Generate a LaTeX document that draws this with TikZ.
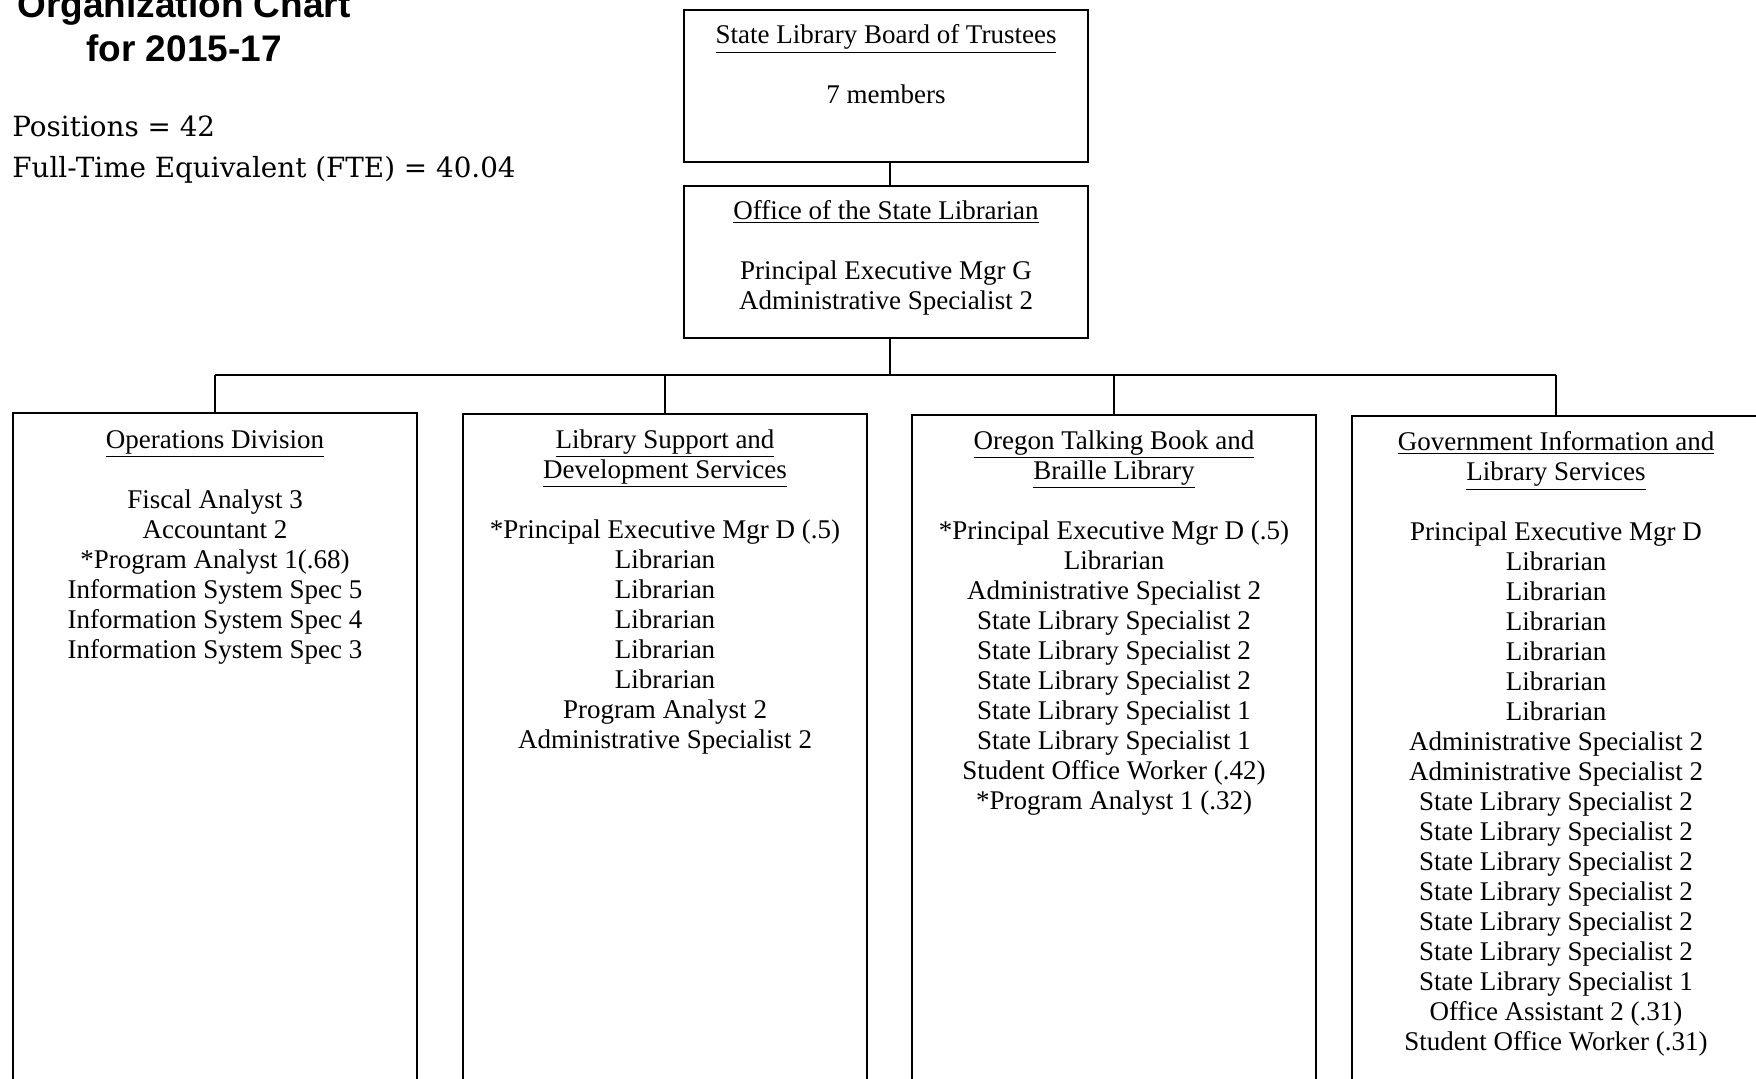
\documentclass[tikz,border=0pt]{standalone}
\usepackage{fontspec}
\setmainfont{Liberation Serif}
\newfontfamily\headfont{Liberation Sans}
\newfontfamily\countfont{DejaVu Serif}
\usetikzlibrary{positioning}

\newcommand{\unitname}[1]{\underline{#1}}

\begin{document}
\begin{tikzpicture}[x=0.5pt,y=-0.5pt]
	\tikzstyle{orgbox}=[draw,line width=1pt,rectangle,anchor=north,inner sep=0pt,minimum width=202pt]
	\tikzstyle{boxtext}=[align=center,anchor=north,inner sep=0pt,font=\fontsize{13.5}{15}\selectfont]
	\tikzstyle{wire}=[line width=0.8pt]

	\useasboundingbox (0,0) rectangle (1756,1079);
	\clip (0,0) rectangle (1756,1079);

	%
	% heading and totals
	%
	\node [anchor=base,align=center,inner sep=0pt,font=\headfont\bfseries\fontsize{18.5}{22}\selectfont] (title) at (184,62) {Organization Chart\\for 2015-17};
	\node [anchor=base west,align=left,inner sep=0pt,font=\countfont\fontsize{13.9}{20.5}\selectfont] (totals) at (12,178) {Positions = 42\\Full-Time Equivalent (FTE) = 40.04};

	%
	% board and state librarian
	%
	\node [orgbox,minimum height=76pt] (board) at (886,9) {};
	\node [orgbox,minimum height=76pt] (office) at (886,185) {};

	\node [boxtext,below=7.5pt of board.north] (board-text) {\unitname{State Library Board of Trustees}\\[\baselineskip]
		7 members};
	\node [boxtext,below=7.5pt of office.north] (office-text) {\unitname{Office of the State Librarian}\\[\baselineskip]
		Principal Executive Mgr G\\
		Administrative Specialist 2};

	%
	% divisions
	%
	\node [orgbox,minimum height=345pt] (ops) at (215,412) {};
	\node [orgbox,minimum height=345pt] (lsd) at (665,413) {};
	\node [orgbox,minimum height=345pt] (otb) at (1114,414) {};
	\node [orgbox,minimum height=345pt,minimum width=204pt] (gov) at (1556,415) {};

	\node [boxtext,below=9pt of ops.north] (ops-text) {\unitname{Operations Division}\\[\baselineskip]
		Fiscal Analyst 3\\
		Accountant 2\\
		*Program Analyst 1(.68)\\
		Information System Spec 5\\
		Information System Spec 4\\
		Information System Spec 3};

	\node [boxtext,below=8pt of lsd.north] (lsd-text) {\unitname{Library Support and}\\
		\unitname{Development Services}\\[\baselineskip]
		*Principal Executive Mgr D (.5)\\
		Librarian\\
		Librarian\\
		Librarian\\
		Librarian\\
		Librarian\\
		Program Analyst 2\\
		Administrative Specialist 2};

	\node [boxtext,below=8pt of otb.north] (otb-text) {\unitname{Oregon Talking Book and}\\
		\unitname{Braille Library}\\[\baselineskip]
		*Principal Executive Mgr D (.5)\\
		Librarian\\
		Administrative Specialist 2\\
		State Library Specialist 2\\
		State Library Specialist 2\\
		State Library Specialist 2\\
		State Library Specialist 1\\
		State Library Specialist 1\\
		Student Office Worker (.42)\\
		*Program Analyst 1 (.32)};

	\node [boxtext,below=8pt of gov.north] (gov-text) {\unitname{Government Information and}\\
		\unitname{Library Services}\\[\baselineskip]
		Principal Executive Mgr D\\
		Librarian\\
		Librarian\\
		Librarian\\
		Librarian\\
		Librarian\\
		Librarian\\
		Administrative Specialist 2\\
		Administrative Specialist 2\\
		State Library Specialist 2\\
		State Library Specialist 2\\
		State Library Specialist 2\\
		State Library Specialist 2\\
		State Library Specialist 2\\
		State Library Specialist 2\\
		State Library Specialist 1\\
		Office Assistant 2 (.31)\\
		Student Office Worker (.31)};

	%
	% reporting lines
	%
	\coordinate [below=18pt of office.south,xshift=2pt] (bus);

	\draw [wire] ([xshift=2pt]board.south) -- ([xshift=2pt]office.north);
	\draw [wire] ([xshift=2pt]office.south) -- (bus);
	\draw [wire] (bus -| ops.north) -- (bus -| gov.north);
	\foreach \dept in {ops,lsd,otb,gov}
		\draw [wire] (bus -| \dept.north) -- (\dept.north);

\end{tikzpicture}
\end{document}
